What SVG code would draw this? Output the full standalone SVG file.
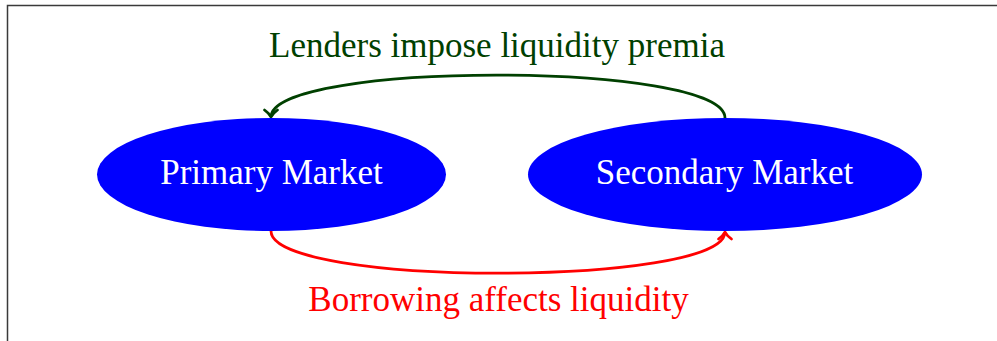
<svg xmlns="http://www.w3.org/2000/svg" width="997" height="341" viewBox="0 0 997 341">
<style>
.node{fill:#0000ff;}
.lbl{font-family:"Liberation Serif","Times New Roman",serif;font-size:35px;text-anchor:middle;}
.w{fill:#ffffff;}
.conn{fill:none;stroke-width:2.8;}
</style>
<defs>
<marker id="ahG" markerUnits="userSpaceOnUse" orient="auto" markerWidth="20" markerHeight="20" refX="0" refY="0" viewBox="-10 -10 20 20" overflow="visible">
<path d="M-7,-6.5 C-4,-2.5 -1.5,-0.7 0,0 C-1.5,0.7 -4,2.5 -7,6.5" fill="none" stroke="#004000" stroke-width="2.8" stroke-linecap="round"/>
</marker>
<marker id="ahR" markerUnits="userSpaceOnUse" orient="auto" markerWidth="20" markerHeight="20" refX="0" refY="0" viewBox="-10 -10 20 20" overflow="visible">
<path d="M-7,-6.5 C-4,-2.5 -1.5,-0.7 0,0 C-1.5,0.7 -4,2.5 -7,6.5" fill="none" stroke="#ff0000" stroke-width="2.8" stroke-linecap="round"/>
</marker>
</defs>
<rect x="7.5" y="5.5" width="1000" height="400" fill="#ffffff" stroke="#3a3a3a" stroke-width="1.5"/>
<g id="connectors">
<path class="conn" d="M725,118 C725,61 271,61 271,117" stroke="#004000" marker-end="url(#ahG)"/>
<path class="conn" d="M271,231 C271,287 725,287 725,232" stroke="#ff0000" marker-end="url(#ahR)"/>
<text class="lbl" x="497" y="57" fill="#004000">Lenders impose liquidity premia</text>
<text class="lbl" x="498.5" y="310.5" fill="#ff0000">Borrowing affects liquidity</text>
</g>
<g id="primary">
<ellipse class="node" cx="271.5" cy="174.5" rx="174.5" ry="56.5"/>
<text class="lbl w" x="271.5" y="183.5">Primary Market</text>
</g>
<g id="secondary">
<ellipse class="node" cx="725" cy="174.5" rx="197" ry="56.5"/>
<text class="lbl w" x="724.5" y="183.5">Secondary Market</text>
</g>
</svg>
